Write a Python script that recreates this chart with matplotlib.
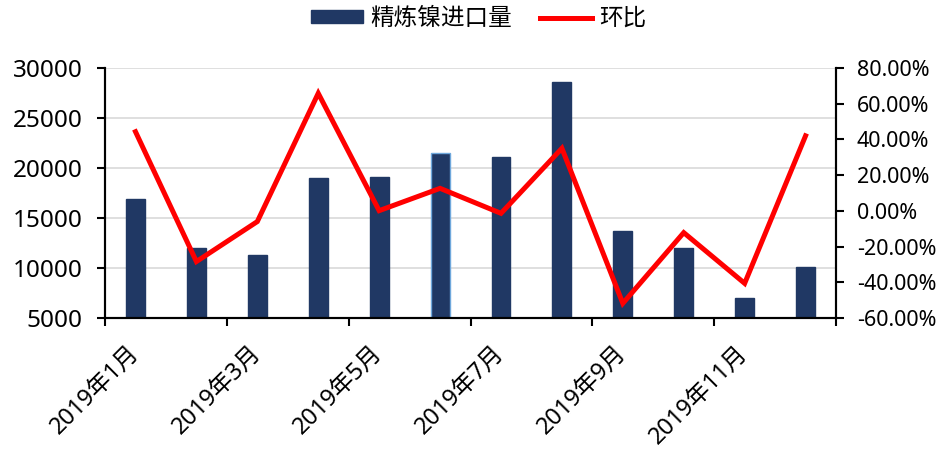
import matplotlib
matplotlib.use("Agg")
import matplotlib.pyplot as plt
import matplotlib.transforms as mtransforms
import numpy as np
from matplotlib.ticker import FuncFormatter, FixedLocator, NullFormatter

plt.rcParams['font.family'] = ['Noto Sans', 'Noto Sans CJK SC', 'DejaVu Sans']

months = ["2019年1月", "2019年2月", "2019年3月", "2019年4月", "2019年5月", "2019年6月",
          "2019年7月", "2019年8月", "2019年9月", "2019年10月", "2019年11月", "2019年12月"]
imports = [16900, 12000, 11300, 19000, 19100, 21500, 21100, 28600, 13700, 12000, 7000, 10100]
mom = [44.3, -28.4, -6.0, 65.8, 0.1, 12.6, -1.4, 35.0, -51.8, -12.2, -40.6, 42.0]

navy = '#203864'

fig = plt.figure(figsize=(9.42, 4.53), dpi=100)
ax = fig.add_axes([0.1115, 0.298, 0.776, 0.552])
ax2 = ax.twinx()

x = np.arange(len(months))
edges = [navy] * len(months)
edges[5] = '#6fa8dc'
bars = ax.bar(x, imports, width=0.31, color=navy, edgecolor=edges, linewidth=1.0,
              label='精炼镍进口量', zorder=2)
line, = ax2.plot(x, mom, color='#ff0000', linewidth=3.6, label='环比', solid_joinstyle='miter')

ax.set_xlim(-0.5, len(months) - 0.5)
ax.set_ylim(5000, 30000)
ax.set_yticks(range(5000, 30001, 5000))
ax2.set_ylim(-60, 80)
ax2.set_yticks(range(-60, 81, 20))
ax2.yaxis.set_major_formatter(FuncFormatter(lambda v, p: f"{v:.2f}%"))

# category ticks at boundaries, labels at every other month
ax.xaxis.set_major_locator(FixedLocator(np.arange(-0.5, len(months), 2)))
ax.xaxis.set_major_formatter(NullFormatter())
ax.xaxis.set_minor_locator(FixedLocator(x[::2]))
ax.set_xticklabels([months[i] for i in x[::2]], minor=True, rotation=45,
                   ha='right', va='top', rotation_mode='anchor', fontsize=17)
ax.tick_params(axis='x', which='minor', length=0, pad=17)
ax.tick_params(axis='x', which='major', length=6, width=1.5, direction='out')
shift = mtransforms.ScaledTranslation(-8 / 100, 0, fig.dpi_scale_trans)
for lbl in ax.get_xticklabels(minor=True):
    lbl.set_transform(lbl.get_transform() + shift)

ax.tick_params(axis='y', labelsize=17.5, length=6, width=1.5, pad=10)
ax2.tick_params(axis='y', labelsize=15.5, length=6, width=1.5, pad=9)

ax.grid(axis='y', color='#d9d9d9', linewidth=1.2, zorder=0)
ax.set_axisbelow(True)

for a in (ax, ax2):
    a.spines['top'].set_visible(False)
    for s in ('left', 'right', 'bottom'):
        a.spines[s].set_linewidth(1.5)
        a.spines[s].set_color('black')

fig.legend([bars, line], ['精炼镍进口量', '环比'], loc='center',
           bbox_to_anchor=(0.508, 1 - 19 / 453), ncol=2, frameon=False, fontsize=17,
           handlelength=2.2, handleheight=0.42, handletextpad=0.3, columnspacing=1.2,
           borderpad=0.1)

fig.savefig('out.png', dpi=100)
